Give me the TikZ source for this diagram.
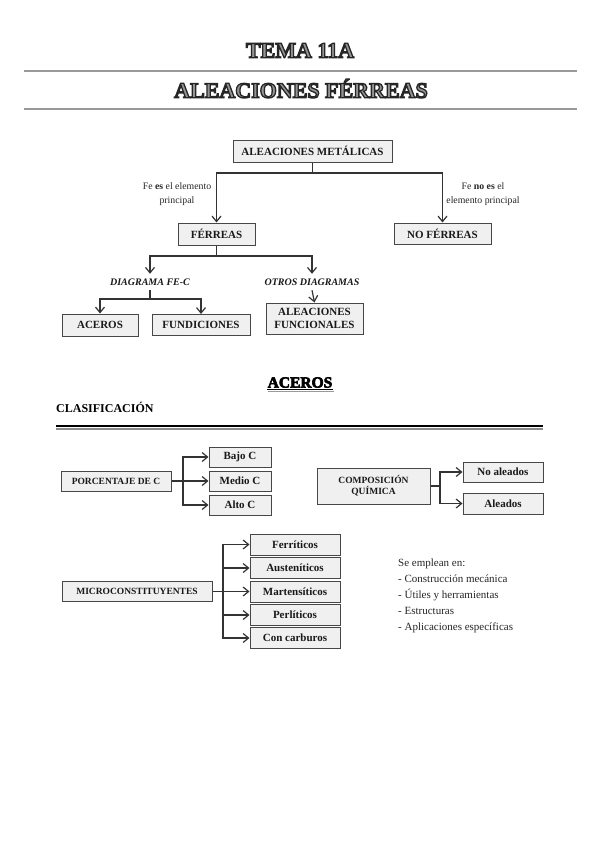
\documentclass[tikz,border=0pt]{standalone}
\usepackage{fontspec}
\setmainfont{Liberation Serif}
\usetikzlibrary{arrows.meta}
\newcommand{\strokedtext}[3]{\special{pdf:literal direct q #1 w #2 G 2 Tr}#3\special{pdf:literal direct 0 Tr Q}}
\begin{document}
\begin{tikzpicture}[x=1pt,y=-1pt,
  box/.style={draw=black!72, fill=black!6, line width=1pt, inner sep=0pt, align=center,
    font=\bfseries\fontsize{11}{13}\selectfont, text=black!90},
  sbox/.style={box, font=\bfseries\fontsize{9.5}{11}\selectfont},
  conn/.style={draw=black!80, line width=1.2pt},
  arr/.style={conn, -{Straight Barb[length=5.5pt,width=9pt]}},
  lbl/.style={inner sep=0pt, align=center, font=\fontsize{9.8}{14}\selectfont, text=black!85},
  ilbl/.style={inner sep=0pt, minimum height=16pt, font=\bfseries\itshape\fontsize{10}{12}\selectfont, text=black!90},
  ttl/.style={inner sep=0pt, font=\bfseries\fontsize{22}{24}\selectfont},
  hd/.style={inner sep=0pt, font=\bfseries\fontsize{15.5}{17}\selectfont},
  hline/.style={draw=black!40, line width=2pt}
]
\useasboundingbox[fill=white] (0,0) rectangle (599,848);

% ---------- title rules ----------
\coordinate (l1a) at (24,71); \coordinate (l1b) at (577,71);
\coordinate (l2a) at (24,109); \coordinate (l2b) at (577,109);
\draw[hline] (l1a) -- (l1b);
\draw[hline] (l2a) -- (l2b);

% ---------- first tree ----------
\node[box, minimum width=159pt, minimum height=22pt] (met) at (312.5,151) {ALEACIONES METÁLICAS};
\node[box, minimum width=77pt, minimum height=22pt] (fer) at (216.5,234) {FÉRREAS};
\node[box, minimum width=97pt, minimum height=21pt] (nofer) at (442.5,233.5) {NO FÉRREAS};
\coordinate (fj) at (312.5,173);
\draw[conn] (met.south) -- (fj);
\draw[arr] (fj) -| (fer.north);
\draw[arr] (fj) -| (nofer.north);
\node[lbl] (les) at (177,194) {Fe \textbf{es} el elemento\\principal};
\node[lbl] (lno) at (483,194) {Fe \textbf{no es} el\\elemento principal};

\node[ilbl] (diag) at (150,282) {DIAGRAMA FE-C};
\node[ilbl] (otros) at (312,282) {OTROS DIAGRAMAS};
\coordinate (dj) at (216.5,256);
\draw[conn] (fer.south) -- (dj);
\draw[arr] (dj) -| (diag.north);
\draw[arr] (dj) -| (otros.north);

\node[box, minimum width=76pt, minimum height=22pt] (ace) at (100,325) {ACEROS};
\node[box, minimum width=98pt, minimum height=21pt] (fund) at (201,325) {FUNDICIONES};
\node[box, minimum width=97pt, minimum height=31pt] (func) at (314.5,318.5) {ALEACIONES\\FUNCIONALES};
\coordinate (aj) at (150,299);
\draw[conn] (diag.south) -- (aj);
\draw[arr] (aj) -| (ace.north);
\draw[arr] (aj) -| (fund.north);
\draw[arr] (otros.south) -- (func.north);

% ---------- ACEROS heading rules ----------
\coordinate (u1s) at (268.2,391.2); \coordinate (u2s) at (334.2,391.2);
\draw[draw=black!40, line width=1.2pt] (u1s) -- (u2s);
\coordinate (u1) at (267,389.8); \coordinate (u2) at (333,389.8);
\draw[draw=black, line width=1pt] (u1) -- (u2);

\node[inner sep=0pt, anchor=west, font=\bfseries\fontsize{12}{14}\selectfont] (clas) at (56,407) {CLASIFICACIÓN};
\coordinate (c1) at (56,426); \coordinate (c2) at (543,426);
\coordinate (c3) at (56,428.6); \coordinate (c4) at (543,428.6);
\draw[draw=black!45, line width=1.8pt] (c3) -- (c4);
\draw[draw=black, line width=2.4pt] (c1) -- (c2);

% ---------- porcentaje ----------
\node[sbox, minimum width=110pt, minimum height=20pt] (porc) at (116,481) {PORCENTAJE DE C};
\node[box, minimum width=62pt, minimum height=20pt] (bajo) at (240,457) {Bajo C};
\node[box, minimum width=62pt, minimum height=20pt] (medio) at (240,481) {Medio C};
\node[box, minimum width=62pt, minimum height=20pt] (alto) at (240,505) {Alto C};
\coordinate (pj) at (183,481);
\draw[arr] (porc.east) -- (medio.west);
\draw[arr] (pj) |- (bajo.west);
\draw[arr] (pj) |- (alto.west);

% ---------- composición ----------
\node[sbox, minimum width=113pt, minimum height=36pt] (comp) at (373.5,486) {COMPOSICIÓN\\QUÍMICA};
\node[box, minimum width=80pt, minimum height=20pt] (noal) at (503,472) {No aleados};
\node[box, minimum width=80pt, minimum height=21pt] (alea) at (503,503.5) {Aleados};
\coordinate (cj) at (440,486);
\draw[conn] (comp.east) -- (cj);
\draw[arr] (cj) |- (noal.west);
\draw[arr] (cj) |- (alea.west);

% ---------- microconstituyentes ----------
\node[sbox, minimum width=150pt, minimum height=20pt] (micro) at (137,591.5) {MICROCONSTITUYENTES};
\node[box, minimum width=90pt, minimum height=21pt] (ferr) at (295,544.5) {Ferríticos};
\node[box, minimum width=90pt, minimum height=21pt] (aust) at (295,568) {Austeníticos};
\node[box, minimum width=90pt, minimum height=21pt] (mart) at (295,591.5) {Martensíticos};
\node[box, minimum width=90pt, minimum height=21pt] (perl) at (295,615) {Perlíticos};
\node[box, minimum width=90pt, minimum height=21pt] (conc) at (295,638) {Con carburos};
\coordinate (mj) at (223,591.5);
\draw[arr] (micro.east) -- (mart.west);
\draw[arr] (mj) |- (ferr.west);
\draw[arr] (mj) |- (aust.west);
\draw[arr] (mj) |- (perl.west);
\draw[arr] (mj) |- (conc.west);

\node[inner sep=0pt, anchor=north west, align=left, font=\fontsize{11}{16}\selectfont, text=black!85] (uses) at (398,559)
 {Se emplean en:\\- Construcción mecánica\\- Útiles y herramientas\\- Estructuras\\- Aplicaciones específicas};

% ---------- stroked headings (drawn last) ----------
\node[ttl,text=black!42] (t1) at (300,50.5) {\strokedtext{1.3}{0.15}{TEMA 11A}};
\node[ttl,text=black!42] (t2) at (301,88.5) {\strokedtext{1.3}{0.15}{ALEACIONES FÉRREAS}};
\node[hd,text=black] (hd1) at (300,382.5) {\strokedtext{0.6}{0}{ACEROS}};
\end{tikzpicture}
\end{document}
